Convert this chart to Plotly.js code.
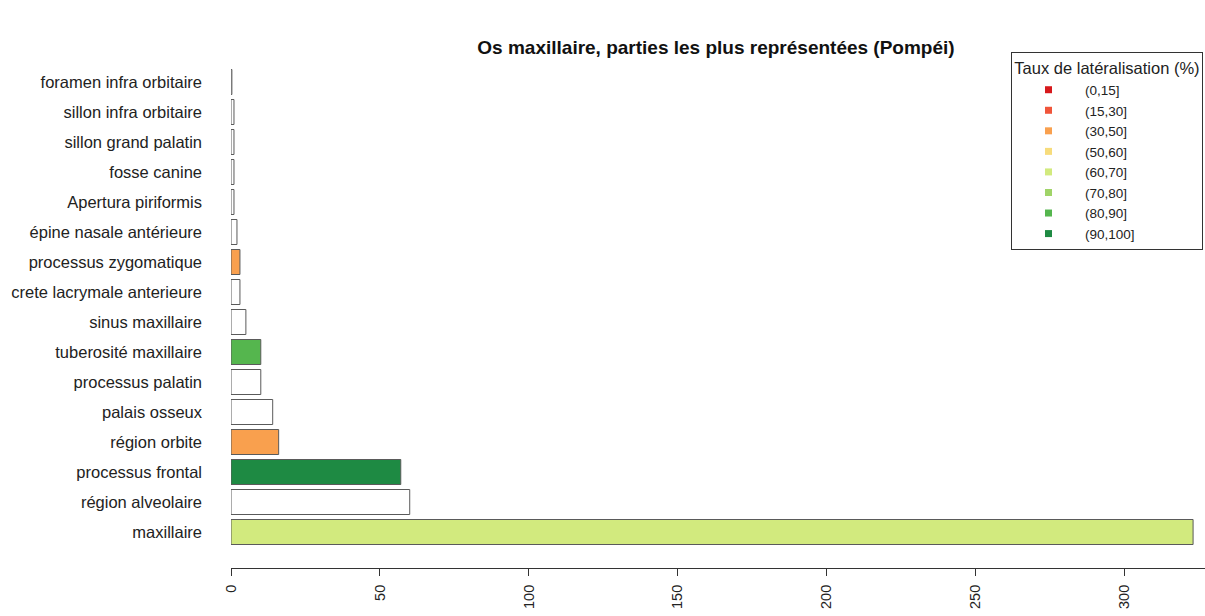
<!DOCTYPE html>
<html>
<head>
<meta charset="utf-8">
<script src="https://cdn.plot.ly/plotly-3.0.1.min.js"></script>
<style>html,body{margin:0;padding:0;background:#fff;}#chart{width:1205px;height:616px;}</style>
</head>
<body>
<div id="chart"></div>
<script>
// Categories listed bottom to top
const categories = [
  "maxillaire", "région alveolaire", "processus frontal", "région orbite",
  "palais osseux", "processus palatin", "tuberosité maxillaire", "sinus maxillaire",
  "crete lacrymale anterieure", "processus zygomatique", "épine nasale antérieure",
  "Apertura piriformis", "fosse canine", "sillon grand palatin",
  "sillon infra orbitaire", "foramen infra orbitaire"
];
const counts = [323, 60, 57, 16, 14, 10, 10, 5, 3, 3, 2, 1, 1, 1, 1, 0.3];
// Lateralisation class of each bar (null = no class, white bar)
const lateralClass = [
  "(60,70]", null, "(90,100]", "(30,50]", null, null, "(80,90]", null,
  null, "(30,50]", null, null, null, null, null, null
];
const classLabels = ["(0,15]", "(15,30]", "(30,50]", "(50,60]", "(60,70]", "(70,80]", "(80,90]", "(90,100]"];
const classColors = ["#D7191C", "#F0553A", "#F9A04E", "#F7DC7C", "#D2EA7E", "#A0D468", "#55B64E", "#1E8A43"];
const xTicks = [0, 50, 100, 150, 200, 250, 300];

const colorOf = c => c === null ? "#FFFFFF" : classColors[classLabels.indexOf(c)];

const traces = [{
  type: "bar",
  orientation: "h",
  y: categories,
  x: counts,
  marker: { color: lateralClass.map(colorOf), line: { color: "#5a5a5a", width: 1 } },
  showlegend: false,
  hoverinfo: "x+y"
}];
classLabels.forEach((lab, i) => {
  traces.push({
    type: "scatter", mode: "markers",
    x: [null], y: [null],
    name: lab,
    marker: { symbol: "square", size: 7, color: classColors[i] },
    showlegend: true
  });
});

const font = "Liberation Sans, Arial, Helvetica, sans-serif";
const layout = {
  width: 1205, height: 616,
  paper_bgcolor: "#fff", plot_bgcolor: "#fff",
  margin: { l: 231, r: 0, t: 46, b: 48, autoexpand: false },
  font: { family: font, size: 14, color: "#222" },
  title: {
    text: "<b>Os maxillaire, parties les plus représentées (Pompéi)</b>",
    font: { family: font, size: 19, color: "#111" },
    xref: "container", yref: "container",
    x: 716 / 1205, y: 1 - 47 / 616, xanchor: "center", yanchor: "middle"
  },
  bargap: 0.167,
  xaxis: {
    range: [0, 327],
    tickvals: xTicks,
    ticktext: xTicks.map(String),
    tickangle: -90,
    ticks: "outside", ticklen: 7, tickcolor: "#333", tickwidth: 1,
    ticklabelstandoff: 3,
    showline: true, linecolor: "#333", linewidth: 1,
    showgrid: false, zeroline: false,
    tickfont: { size: 14.5, color: "#222" }
  },
  yaxis: {
    type: "category",
    categoryorder: "array", categoryarray: categories,
    range: [-1.2, 16.2],
    showline: false, showgrid: false, zeroline: false,
    ticks: "", ticklabelstandoff: 28,
    tickfont: { size: 16.5, color: "#222" }
  },
  legend: {
    xref: "container", yref: "container",
    x: 1203 / 1205, y: 1 - 52 / 616, xanchor: "right", yanchor: "top",
    bgcolor: "#fff", bordercolor: "#333", borderwidth: 1,
    title: { text: "Taux de latéralisation (%)", side: "top center", font: { size: 16.5 } },
    font: { size: 13.5, color: "#222" },
    itemwidth: 63
  },
  showlegend: true
};
Plotly.newPlot("chart", traces, layout, { displayModeBar: false });
</script>
</body>
</html>
